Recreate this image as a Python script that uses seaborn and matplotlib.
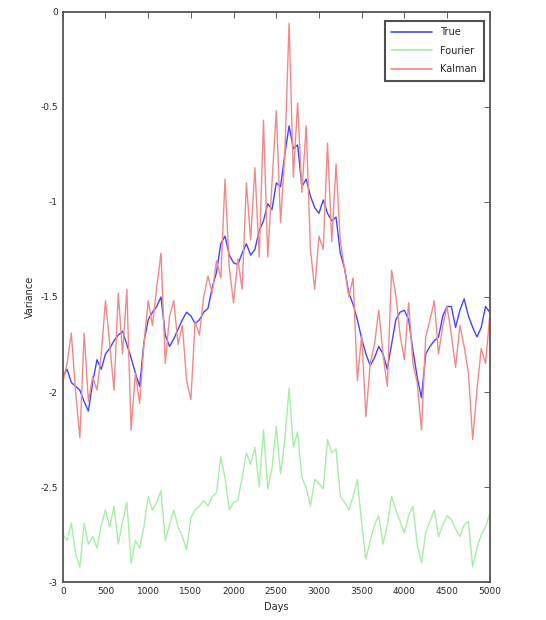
import numpy as np
import pandas as pd
import matplotlib
matplotlib.use("Agg")
import matplotlib.pyplot as plt
import seaborn as sns

days = list(range(0, 5001, 50))

true_vals = [-1.92, -1.88, -1.95, -1.97, -1.99, -2.05, -2.10, -1.95, -1.83, -1.88,
             -1.80, -1.77, -1.73, -1.70, -1.68, -1.75, -1.82, -1.90, -1.97, -1.74,
             -1.62, -1.58, -1.55, -1.50, -1.70, -1.76, -1.72, -1.67, -1.62, -1.58,
             -1.60, -1.64, -1.62, -1.58, -1.56, -1.45, -1.37, -1.22, -1.18, -1.28,
             -1.32, -1.33, -1.27, -1.22, -1.28, -1.25, -1.15, -1.10, -1.01, -1.04,
             -0.90, -0.92, -0.75, -0.60, -0.72, -0.70, -0.92, -0.88, -0.97, -1.03,
             -1.06, -0.99, -1.06, -1.10, -1.08, -1.27, -1.35, -1.48, -1.54, -1.62,
             -1.72, -1.80, -1.86, -1.82, -1.76, -1.80, -1.88, -1.75, -1.62, -1.58,
             -1.57, -1.62, -1.78, -1.92, -2.03, -1.80, -1.76, -1.73, -1.71, -1.60,
             -1.55, -1.55, -1.66, -1.57, -1.51, -1.60, -1.66, -1.71, -1.66, -1.55,
             -1.58]

fourier_vals = [-2.75, -2.78, -2.69, -2.85, -2.92, -2.69, -2.80, -2.76, -2.82, -2.70,
                -2.62, -2.71, -2.60, -2.80, -2.68, -2.58, -2.90, -2.78, -2.82, -2.71,
                -2.55, -2.62, -2.58, -2.52, -2.78, -2.70, -2.62, -2.71, -2.76, -2.83,
                -2.66, -2.62, -2.60, -2.57, -2.60, -2.55, -2.53, -2.34, -2.45, -2.62,
                -2.58, -2.57, -2.45, -2.32, -2.38, -2.29, -2.50, -2.20, -2.51, -2.40,
                -2.18, -2.43, -2.25, -1.98, -2.29, -2.21, -2.45, -2.50, -2.60, -2.46,
                -2.48, -2.51, -2.25, -2.32, -2.30, -2.55, -2.58, -2.62, -2.55, -2.46,
                -2.69, -2.88, -2.78, -2.70, -2.65, -2.80, -2.70, -2.55, -2.62, -2.68,
                -2.74, -2.65, -2.60, -2.80, -2.90, -2.74, -2.68, -2.62, -2.76, -2.70,
                -2.65, -2.67, -2.72, -2.76, -2.70, -2.68, -2.92, -2.82, -2.75, -2.71,
                -2.64]

kalman_vals = [-1.95, -1.85, -1.69, -2.00, -2.24, -1.69, -2.05, -1.92, -1.99, -1.80,
               -1.52, -1.75, -1.99, -1.48, -1.80, -1.46, -2.20, -1.90, -2.06, -1.75,
               -1.52, -1.65, -1.45, -1.27, -1.85, -1.60, -1.52, -1.75, -1.65, -1.94,
               -2.04, -1.63, -1.70, -1.50, -1.39, -1.48, -1.31, -1.40, -0.88, -1.35,
               -1.53, -1.30, -1.46, -0.90, -1.20, -0.82, -1.29, -0.57, -1.29, -0.90,
               -0.52, -1.11, -0.75, -0.06, -0.87, -0.48, -0.95, -0.60, -1.25, -1.46,
               -1.18, -1.25, -0.69, -1.21, -0.80, -1.21, -1.35, -1.50, -1.40, -1.94,
               -1.70, -2.13, -1.85, -1.75, -1.57, -1.80, -1.97, -1.36, -1.49, -1.70,
               -1.83, -1.53, -1.85, -1.95, -2.20, -1.71, -1.62, -1.52, -1.80, -1.65,
               -1.55, -1.70, -1.87, -1.65, -1.76, -1.90, -2.25, -1.99, -1.77, -1.85,
               -1.60]

series_names = ["True", "Fourier", "Kalman"]
x_ticks = list(range(0, 5001, 500))
y_ticks = [0, -0.5, -1, -1.5, -2, -2.5, -3]
y_tick_labels = ["0", "-0.5", "-1", "-1.5", "-2", "-2.5", "-3"]

df = pd.DataFrame({
    "Days": days * 3,
    "value": true_vals + fourier_vals + kalman_vals,
    "series": [series_names[0]] * len(days) + [series_names[1]] * len(days) + [series_names[2]] * len(days),
})

sns.set_theme(style="white")
plt.rcParams['font.family'] = ['DejaVu Sans']
plt.rcParams['xtick.direction'] = 'in'
plt.rcParams['ytick.direction'] = 'in'

fig = plt.figure(figsize=(5.46, 6.2), dpi=100)
ax = fig.add_axes([0.115, 0.061, 0.782, 0.920])

palette = {"True": "#4444ff", "Fourier": "#a6eea6", "Kalman": "#f08a8a"}
sns.lineplot(data=df, x="Days", y="value", hue="series", hue_order=series_names,
             palette=palette, ax=ax, linewidth=1.0, estimator=None)

ax.set_xlim(0, 5000)
ax.set_ylim(-3, 0)
ax.set_xticks(x_ticks)
ax.set_xticklabels([str(t) for t in x_ticks], fontsize=6.5)
ax.set_yticks(y_ticks)
ax.set_yticklabels(y_tick_labels, fontsize=6.5)
ax.set_xlabel("Days", fontsize=7)
ax.set_ylabel("Variance", fontsize=7)
ax.tick_params(which='both', top=True, right=True, length=4, width=0.6, color='#444444')
for s in ax.spines.values():
    s.set_color('#555555')
    s.set_linewidth(1.3)

leg = ax.legend(loc='upper right', fontsize=7, frameon=True, fancybox=False,
                borderpad=0.7, handlelength=4.2, labelspacing=0.85,
                bbox_to_anchor=(0.997, 0.993))
leg.get_frame().set_edgecolor('#222222')
leg.get_frame().set_linewidth(1.5)
for line in leg.get_lines():
    line.set_linewidth(1.2)

fig.savefig("out.png", dpi=100)
